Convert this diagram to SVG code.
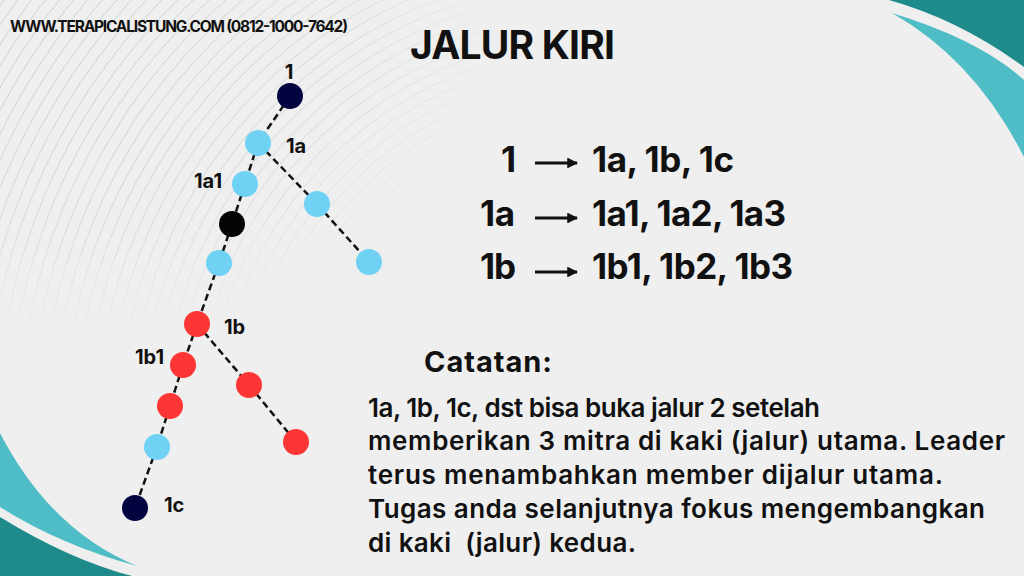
<svg xmlns="http://www.w3.org/2000/svg" width="1024" height="576" viewBox="0 0 1024 576">
<defs>
<style>
.t{font-family:Inter,"Noto Sans","Liberation Sans",sans-serif;fill:#111;}
.lbl{font-size:20px;font-weight:700;}
.eq{font-size:35px;font-weight:700;}
.body{font-size:26px;font-weight:600;}
.edge{stroke:#111;stroke-width:2.5;stroke-dasharray:7 4;fill:none;}
.navy{fill:#03033f;}
.sky{fill:#6fd1f3;}
.red{fill:#fe3535;}
.blk{fill:#050505;}
.arr{stroke:#111;stroke-width:3;}
</style>
<marker id="ah" viewBox="0 0 10 10" refX="9" refY="5" markerWidth="3.6" markerHeight="3.6" orient="auto" markerUnits="strokeWidth">
<path d="M0,0 L10,5 L0,10 z" fill="#111"/>
</marker>
<radialGradient id="fade" cx="0.15" cy="0.1" r="0.8">
<stop offset="0" stop-color="#fff" stop-opacity="1"/>
<stop offset="0.6" stop-color="#fff" stop-opacity="0.7"/>
<stop offset="1" stop-color="#fff" stop-opacity="0"/>
</radialGradient>
<mask id="m"><rect x="0" y="0" width="540" height="380" fill="url(#fade)"/></mask>
</defs>
<rect width="1024" height="576" fill="#efefef"/>
<g mask="url(#m)" fill="none" stroke="#c4cccc" stroke-width="0.9">
<circle cx="600" cy="430" r="240"/><circle cx="600" cy="430" r="251"/><circle cx="600" cy="430" r="262"/>
<circle cx="600" cy="430" r="273"/><circle cx="600" cy="430" r="284"/><circle cx="600" cy="430" r="295"/>
<circle cx="600" cy="430" r="306"/><circle cx="600" cy="430" r="317"/><circle cx="600" cy="430" r="328"/>
<circle cx="600" cy="430" r="339"/><circle cx="600" cy="430" r="350"/><circle cx="600" cy="430" r="361"/>
<circle cx="600" cy="430" r="372"/><circle cx="600" cy="430" r="383"/><circle cx="600" cy="430" r="394"/>
<circle cx="600" cy="430" r="405"/><circle cx="600" cy="430" r="416"/><circle cx="600" cy="430" r="427"/>
<circle cx="600" cy="430" r="438"/><circle cx="600" cy="430" r="449"/><circle cx="600" cy="430" r="460"/>
<circle cx="600" cy="430" r="471"/><circle cx="600" cy="430" r="482"/><circle cx="600" cy="430" r="493"/>
<circle cx="600" cy="430" r="504"/><circle cx="600" cy="430" r="515"/><circle cx="600" cy="430" r="526"/>
<circle cx="600" cy="430" r="537"/><circle cx="600" cy="430" r="548"/><circle cx="600" cy="430" r="559"/>
<circle cx="600" cy="430" r="570"/><circle cx="600" cy="430" r="581"/><circle cx="600" cy="430" r="592"/>
<circle cx="600" cy="430" r="603"/><circle cx="600" cy="430" r="614"/><circle cx="600" cy="430" r="625"/>
<circle cx="600" cy="430" r="636"/><circle cx="600" cy="430" r="647"/><circle cx="600" cy="430" r="658"/>
<circle cx="600" cy="430" r="669"/><circle cx="600" cy="430" r="680"/><circle cx="600" cy="430" r="691"/>
<circle cx="600" cy="430" r="702"/><circle cx="600" cy="430" r="713"/><circle cx="600" cy="430" r="724"/>
<circle cx="600" cy="430" r="735"/>
</g>
<!-- corner decorations -->
<path d="M889,0 L1024,0 L1024,67 Q960,20 889,0 z" fill="#1e8a8a"/>
<path d="M892,13 Q980,40 1024,80 L1024,157 Q975,60 892,13 z" fill="#4fbdc5"/>
<path d="M0,433 Q50,530 137,566 Q60,545 0,507 z" fill="#4fbdc5"/>
<path d="M0,517 Q70,560 132,576 L0,576 z" fill="#1e8a8a"/>

<text class="t" x="10" y="32" font-size="15.5" font-weight="700" textLength="338">WWW.TERAPICALISTUNG.COM (0812-1000-7642)</text>
<text class="t" x="410" y="59" font-size="39" font-weight="700" textLength="205">JALUR KIRI</text>

<g id="connectors">
<line class="edge" x1="290" y1="96" x2="258" y2="143"/>
<line class="edge" x1="258" y1="143" x2="245" y2="184"/>
<line class="edge" x1="245" y1="184" x2="232" y2="224"/>
<line class="edge" x1="232" y1="224" x2="219" y2="263"/>
<line class="edge" x1="219" y1="263" x2="197" y2="324"/>
<line class="edge" x1="258" y1="143" x2="317" y2="204"/>
<line class="edge" x1="317" y1="204" x2="369" y2="262"/>
<line class="edge" x1="197" y1="324" x2="183" y2="365"/>
<line class="edge" x1="183" y1="365" x2="170" y2="406"/>
<line class="edge" x1="170" y1="406" x2="157" y2="447"/>
<line class="edge" x1="157" y1="447" x2="135" y2="508"/>
<line class="edge" x1="197" y1="324" x2="249" y2="385"/>
<line class="edge" x1="249" y1="385" x2="296" y2="442"/>
</g>

<g id="n1"><circle class="navy" cx="290" cy="96" r="13"/><text class="t lbl" x="289" y="79" text-anchor="middle">1</text></g>
<g id="n1a"><circle class="sky" cx="258" cy="143" r="13"/><text class="t lbl" x="286" y="153">1a</text></g>
<g id="n1a1"><circle class="sky" cx="245" cy="184" r="13"/><text class="t lbl" x="194" y="188">1a1</text></g>
<g id="n1a1b"><circle class="blk" cx="232" cy="224" r="13"/></g>
<g id="n1a1c"><circle class="sky" cx="219" cy="263" r="13"/></g>
<g id="n1a2"><circle class="sky" cx="317" cy="204" r="13"/></g>
<g id="n1a3"><circle class="sky" cx="369" cy="262" r="13"/></g>
<g id="n1b"><circle class="red" cx="197" cy="324" r="13"/><text class="t lbl" x="224" y="334">1b</text></g>
<g id="n1b1"><circle class="red" cx="183" cy="365" r="13"/><text class="t lbl" x="135" y="364">1b1</text></g>
<g id="n1b1b"><circle class="red" cx="170" cy="406" r="13"/></g>
<g id="n1b1c"><circle class="sky" cx="157" cy="447" r="13"/></g>
<g id="n1b2"><circle class="red" cx="249" cy="385" r="13"/></g>
<g id="n1b3"><circle class="red" cx="296" cy="442" r="13"/></g>
<g id="n1c"><circle class="navy" cx="135" cy="508" r="13"/><text class="t lbl" x="164" y="512">1c</text></g>

<g id="equations">
<text class="t eq" x="501" y="172" textLength="13">1</text>
<line class="arr" x1="535" y1="163" x2="577" y2="163" marker-end="url(#ah)"/>
<text class="t eq" x="592" y="172" textLength="142">1a, 1b, 1c</text>
<text class="t eq" x="480" y="226" textLength="35">1a</text>
<line class="arr" x1="535" y1="218" x2="577" y2="218" marker-end="url(#ah)"/>
<text class="t eq" x="592" y="226" textLength="194">1a1, 1a2, 1a3</text>
<text class="t eq" x="480" y="279" textLength="36">1b</text>
<line class="arr" x1="535" y1="272" x2="577" y2="272" marker-end="url(#ah)"/>
<text class="t eq" x="592" y="279" textLength="201">1b1, 1b2, 1b3</text>
</g>

<g id="note">
<text class="t" x="424" y="372" font-size="29" font-weight="700" textLength="128">Catatan:</text>
<text class="t body" x="368" y="417" textLength="452">1a, 1b, 1c, dst bisa buka jalur 2 setelah</text>
<text class="t body" x="368" y="450" textLength="637">memberikan 3 mitra di kaki (jalur) utama. Leader</text>
<text class="t body" x="368" y="484" textLength="575">terus menambahkan member dijalur utama.</text>
<text class="t body" x="368" y="518" textLength="617">Tugas anda selanjutnya fokus mengembangkan</text>
<text class="t body" x="368" y="552" textLength="268" xml:space="preserve">di kaki  (jalur) kedua.</text>
</g>
</svg>
